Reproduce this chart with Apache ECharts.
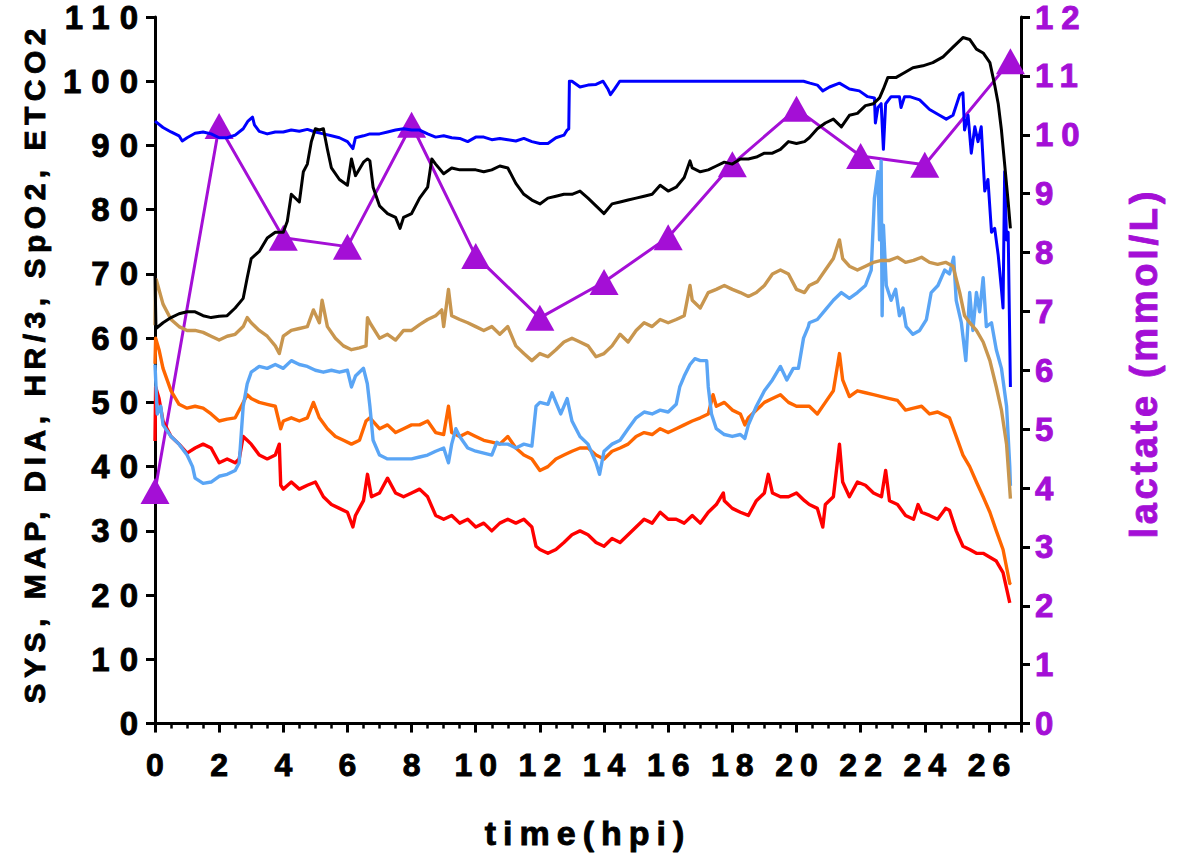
<!DOCTYPE html>
<html>
<head>
<meta charset="utf-8">
<script src="https://cdn.jsdelivr.net/npm/echarts@6/dist/echarts.min.js"></script>
<style>
html,body{margin:0;padding:0;background:#fff;}
#chart{width:1186px;height:855px;}
#chart text[style*="ylabA"]{letter-spacing:10px;}
#chart text[style*="ylabB"]{letter-spacing:8px;}
#chart text[style*="xlabA"]{letter-spacing:7px;}
#chart text[style*="ynameA"]{letter-spacing:5.5px;}
#chart text[style*="ynameB"]{letter-spacing:3.7px;}
#chart text[style*="xnameA"]{letter-spacing:7px;}
</style>
</head>
<body>
<div id="chart"></div>
<script>
// ---- data (time in hours post infection, value) ----
const X_LABELS = [0,2,4,6,8,10,12,14,16,18,20,22,24,26];
const Y_LEFT_TICKS = [0,10,20,30,40,50,60,70,80,90,100,110];
const Y_RIGHT_TICKS = [0,1,2,3,4,5,6,7,8,9,10,11,12];

const LACT_T = [0,2,4,6,8,10,12,14,16,18,20,22,24,26.67];
const LACT_V = [3.95,10.15,8.25,8.1,10.17,7.94,6.89,7.5,8.26,9.5,10.44,9.64,9.49,11.25];

const SPO2 = [[0,93.8],[0.25,92.8],[0.5,92.1],[0.75,91.5],[0.85,90.7],[1,91.2],[1.25,91.9],[1.5,92.1],[1.75,91.8],[2,91.2],[2.25,91.2],[2.5,91.6],[2.75,92.6],[2.9,93.8],[3.04,94.4],[3.1,93.2],[3.25,92.2],[3.5,91.8],[3.75,92.1],[4,92.1],[4.25,92.4],[4.5,92.2],[4.75,92.5],[5,92.1],[5.25,91.8],[5.5,91.5],[5.75,91.2],[6,90.6],[6.17,89.5],[6.25,91.2],[6.5,91.5],[6.7,91.8],[7,91.8],[7.25,92.1],[7.5,92.4],[7.75,92.6],[8,92.4],[8.25,92.4],[8.5,91.8],[8.75,91.3],[9,91.5],[9.25,91.2],[9.5,91.1],[9.75,90.6],[10,91.3],[10.25,91.3],[10.5,90.9],[10.75,91.1],[11,90.9],[11.25,90.7],[11.5,91.1],[11.75,90.6],[12,90.3],[12.25,90.3],[12.5,91.2],[12.75,91.6],[12.85,92.4],[12.9,92.6],[12.92,100],[13,100],[13.25,99.1],[13.5,99.4],[13.75,99.5],[13.97,100],[14.12,98.8],[14.2,97.9],[14.33,98.8],[14.49,100],[15,100],[16,100],[17,100],[18,100],[19,100],[20,100],[20.22,100],[20.42,99.7],[20.65,99.4],[20.82,98.5],[21.03,99.1],[21.34,99.7],[21.65,98.8],[21.96,98.5],[22.22,97.6],[22.43,97.4],[22.46,93.5],[22.54,95.9],[22.64,96.5],[22.71,89.4],[22.78,96.5],[22.95,97.6],[23.21,97.6],[23.26,95.9],[23.37,97.6],[23.53,97.6],[23.84,97.1],[24.15,95.6],[24.46,94.7],[24.67,94.1],[24.88,94.7],[25.09,97.9],[25.19,98.2],[25.24,92.4],[25.35,94.7],[25.45,88.8],[25.56,92.9],[25.66,90.6],[25.76,92.9],[25.87,82.9],[25.97,84.7],[26.08,76.5],[26.18,77.1],[26.29,72.9],[26.39,67.6],[26.44,64.7],[26.49,85.9],[26.55,75.3],[26.6,76.5],[26.67,52.4]];

const HR3 = [[0,70],[0.03,61.5],[0.25,62.4],[0.5,63.2],[0.75,63.8],[1,64.1],[1.25,64.1],[1.5,63.5],[1.75,63.2],[2,63.4],[2.25,63.5],[2.5,64.7],[2.75,66.2],[2.875,69.4],[3,72.4],[3.25,73.5],[3.5,75.6],[3.75,76.5],[4,76.5],[4.125,78.2],[4.25,82.4],[4.5,81.2],[4.625,85.9],[4.75,87.1],[4.875,90.6],[5,92.6],[5.125,92.4],[5.25,92.6],[5.375,89.4],[5.5,86.5],[5.75,84.7],[6,83.8],[6.125,87.9],[6.25,85.3],[6.5,87.4],[6.625,87.9],[6.7,87.6],[6.8,83.5],[7,80.6],[7.25,79.4],[7.5,78.8],[7.64,77.1],[7.75,78.8],[8,79.4],[8.25,81.8],[8.5,83.5],[8.63,87.9],[8.75,87.1],[9,85.6],[9.25,86.5],[9.5,86.2],[9.75,86.2],[10,86.2],[10.25,85.9],[10.5,86.2],[10.75,86.8],[11,86.5],[11.25,84.1],[11.5,82.4],[11.75,81.5],[12,80.9],[12.25,81.8],[12.5,82.1],[12.75,82.4],[13,82.4],[13.25,82.9],[13.5,81.8],[13.75,80.6],[14,79.4],[14.25,80.9],[14.5,81.2],[14.75,81.5],[15,81.8],[15.25,82.1],[15.5,82.4],[15.75,83.8],[16,82.9],[16.25,83.5],[16.5,85.0],[16.68,87.6],[16.75,86.5],[17,85.9],[17.25,86.2],[17.5,86.8],[17.75,87.4],[18,87.1],[18.25,87.9],[18.5,87.9],[18.75,88.2],[19,88.8],[19.25,88.8],[19.5,89.4],[19.75,90.6],[20,90.3],[20.25,90.6],[20.4,91.2],[20.65,92.6],[20.9,93.5],[21.15,94.1],[21.4,92.9],[21.65,94.7],[21.9,95.0],[22.15,96.2],[22.4,96.5],[22.59,97.4],[22.71,98.8],[22.85,100.6],[23.11,100.6],[23.32,101.2],[23.63,102.1],[23.94,102.4],[24.25,102.9],[24.57,103.8],[24.88,105.3],[25.19,106.8],[25.4,106.5],[25.61,105.0],[25.82,104.4],[26.03,102.9],[26.18,99.4],[26.29,96.5],[26.39,92.4],[26.49,87.1],[26.6,81.2],[26.67,77.1]];

const SYS = [[0,62],[0.02,68.8],[0.04,69.1],[0.25,65.3],[0.5,62.9],[0.75,61.8],[1,61.2],[1.25,61.2],[1.5,60.9],[1.75,60.3],[2,59.7],[2.25,60.3],[2.5,60.6],[2.75,61.8],[2.875,63.2],[3,62.4],[3.25,61.2],[3.5,60.3],[3.75,58.8],[3.875,57.6],[4,60.3],[4.25,61.2],[4.5,61.5],[4.75,61.8],[4.94,64.4],[5.125,62.4],[5.21,65.9],[5.375,61.8],[5.625,60.0],[5.875,58.8],[6.125,58.2],[6.375,58.5],[6.58,58.8],[6.625,63.2],[6.7,62.4],[7,60.0],[7.25,60.6],[7.5,59.7],[7.75,61.2],[8,61.2],[8.25,62.1],[8.5,62.9],[8.75,63.5],[8.94,64.4],[9,61.8],[9.15,67.6],[9.25,63.5],[9.5,62.9],[9.75,62.4],[10,61.8],[10.25,61.2],[10.5,61.8],[10.75,60.6],[11,61.8],[11.25,58.8],[11.5,57.6],[11.75,56.5],[12,57.6],[12.25,57.1],[12.5,58.2],[12.75,59.4],[13,60.0],[13.25,59.4],[13.5,58.8],[13.75,57.1],[14,57.6],[14.25,58.8],[14.5,60.6],[14.75,59.4],[15,61.2],[15.25,62.4],[15.5,61.8],[15.75,62.9],[16,62.4],[16.25,62.9],[16.5,63.5],[16.68,68.2],[16.75,65.9],[17,64.7],[17.25,67.1],[17.5,67.6],[17.75,68.2],[18,67.6],[18.25,67.1],[18.5,66.5],[18.75,67.1],[19,68.2],[19.25,70.0],[19.5,70.6],[19.75,70.0],[20,67.6],[20.25,67.1],[20.4,68.2],[20.65,68.8],[20.9,70.6],[21.15,72.4],[21.34,75.3],[21.44,72.4],[21.65,71.2],[21.9,70.6],[22.15,71.2],[22.4,71.8],[22.65,72.1],[22.9,72.1],[23.15,72.6],[23.4,71.8],[23.65,72.1],[23.9,72.6],[24.15,71.8],[24.4,71.5],[24.65,71.8],[24.88,71.2],[25.09,67.1],[25.24,63.5],[25.4,62.4],[25.61,61.2],[25.82,59.4],[26.03,56.5],[26.23,52.4],[26.39,48.8],[26.55,43.5],[26.67,35]];

const ETCO2 = [[0,55.9],[0.07,48.2],[0.18,49.4],[0.25,46.5],[0.5,44.7],[0.75,43.5],[1,41.8],[1.17,40.0],[1.25,38.2],[1.5,37.4],[1.75,37.6],[2,38.5],[2.25,38.8],[2.5,39.4],[2.625,40.6],[2.75,49.4],[2.875,52.9],[3,54.7],[3.25,55.6],[3.5,55.3],[3.75,55.9],[4,55.3],[4.25,56.5],[4.5,55.9],[4.75,55.6],[5,55.0],[5.25,54.7],[5.5,55.0],[5.75,54.7],[6,55.0],[6.125,52.4],[6.25,54.1],[6.5,55.3],[6.62,52.9],[6.7,49.4],[6.8,44.1],[7,41.8],[7.25,41.2],[7.5,41.2],[7.75,41.2],[8,41.2],[8.25,41.5],[8.5,41.8],[8.75,42.4],[9,42.9],[9.15,40.6],[9.25,43.5],[9.38,45.9],[9.5,44.7],[9.75,42.9],[10,42.4],[10.25,42.1],[10.5,41.8],[10.66,43.8],[10.75,43.5],[11,43.5],[11.25,42.9],[11.5,43.5],[11.75,43.2],[11.88,49.4],[12,50.0],[12.25,49.7],[12.38,51.5],[12.5,50.0],[12.65,48.2],[12.85,50.6],[13,47.1],[13.25,44.7],[13.5,43.5],[13.75,40.6],[13.86,38.8],[14,42.4],[14.25,43.5],[14.5,44.1],[14.75,45.9],[15,47.6],[15.25,48.5],[15.5,48.2],[15.75,48.8],[16,48.5],[16.25,49.7],[16.36,52.4],[16.5,54.1],[16.68,55.9],[16.83,56.8],[17,56.5],[17.2,56.5],[17.25,52.4],[17.35,48.2],[17.5,45.9],[17.75,45.0],[18,44.7],[18.25,45.0],[18.39,44.4],[18.5,46.5],[18.75,49.4],[19,51.8],[19.25,53.5],[19.5,55.6],[19.7,53.5],[19.9,55.3],[20.06,55.3],[20.22,60.0],[20.37,61.8],[20.4,62.4],[20.65,62.9],[20.9,64.4],[21.15,65.9],[21.4,67.1],[21.65,66.2],[21.9,67.1],[22.15,68.2],[22.33,70.6],[22.43,81.8],[22.54,85.9],[22.59,75.3],[22.64,87.6],[22.67,63.5],[22.71,77.6],[22.8,68.2],[22.95,65.9],[23.09,67.6],[23.21,63.5],[23.32,64.7],[23.42,61.8],[23.63,60.6],[23.84,61.2],[24.05,62.9],[24.2,67.1],[24.41,68.2],[24.62,70.6],[24.77,70.0],[24.9,72.6],[24.98,65.9],[25.14,62.4],[25.28,56.5],[25.4,67.1],[25.5,61.2],[25.61,67.1],[25.71,64.1],[25.82,69.4],[25.92,61.8],[26.08,62.4],[26.23,58.2],[26.39,55.3],[26.55,49.4],[26.65,40.0],[26.67,37]];

const MAP = [[0,56],[0.02,60.0],[0.125,58.2],[0.25,55.3],[0.5,51.8],[0.75,49.7],[1,49.1],[1.25,49.4],[1.5,49.1],[1.75,48.2],[2,47.1],[2.25,47.4],[2.5,47.6],[2.69,49.4],[2.875,51.2],[3,50.6],[3.25,50.0],[3.5,49.7],[3.75,49.4],[3.92,45.9],[4,47.1],[4.25,47.6],[4.5,47.1],[4.75,47.6],[4.94,50.0],[5.125,47.6],[5.375,45.9],[5.625,44.7],[5.875,44.1],[6.125,43.5],[6.375,44.1],[6.58,47.1],[6.7,47.6],[7,45.9],[7.25,46.5],[7.5,45.3],[7.75,45.9],[8,46.5],[8.25,46.5],[8.5,47.1],[8.75,45.3],[9,45.0],[9.15,49.4],[9.25,45.3],[9.5,44.7],[9.75,45.3],[10,44.7],[10.25,44.1],[10.5,43.8],[10.75,43.5],[11,44.7],[11.25,42.9],[11.5,41.8],[11.75,41.2],[12,39.4],[12.25,40.0],[12.5,41.2],[12.75,41.8],[13,42.4],[13.25,42.9],[13.5,42.9],[13.75,41.8],[14,41.2],[14.25,42.4],[14.5,42.9],[14.75,43.5],[15,44.7],[15.25,45.3],[15.5,45.0],[15.75,45.9],[16,45.3],[16.25,45.9],[16.5,46.5],[16.75,47.1],[17,47.6],[17.25,48.2],[17.4,51.2],[17.5,49.4],[17.75,50.0],[18,48.8],[18.25,48.2],[18.39,46.5],[18.5,47.6],[18.75,48.8],[19,50.0],[19.25,50.6],[19.5,51.2],[19.75,50.0],[20,49.4],[20.25,49.4],[20.4,49.4],[20.65,48.2],[20.9,50.0],[21.15,51.8],[21.34,57.6],[21.44,53.5],[21.65,50.9],[21.9,51.8],[22.15,51.5],[22.4,51.2],[22.65,50.9],[22.9,50.6],[23.15,50.3],[23.4,48.8],[23.65,49.1],[23.9,49.4],[24.15,48.2],[24.4,48.5],[24.65,47.9],[24.77,47.6],[24.98,44.7],[25.19,41.8],[25.4,40.0],[25.61,37.6],[25.82,35.3],[26.03,32.9],[26.23,30.0],[26.44,27.1],[26.65,21.8],[26.67,22]];

const DIA = [[0,44],[0.02,52.4],[0.125,50.6],[0.25,47.1],[0.5,44.7],[0.75,43.5],[1,42.1],[1.25,42.9],[1.5,43.5],[1.75,42.9],[2,40.6],[2.25,41.2],[2.5,40.6],[2.625,41.2],[2.75,44.7],[2.875,44.1],[3,43.5],[3.25,41.8],[3.5,41.2],[3.75,41.8],[3.875,43.5],[3.92,37.1],[4,36.5],[4.25,37.6],[4.5,36.5],[4.75,37.1],[5,37.6],[5.25,35.3],[5.5,34.1],[5.75,33.5],[6,32.9],[6.17,30.6],[6.25,32.4],[6.5,34.7],[6.625,38.8],[6.75,35.3],[7,35.9],[7.25,38.2],[7.5,35.9],[7.75,35.3],[8,35.9],[8.25,36.5],[8.5,35.3],[8.75,32.4],[9,31.8],[9.25,32.4],[9.5,31.2],[9.75,31.8],[10,30.6],[10.25,31.2],[10.5,30.0],[10.75,31.2],[11,31.8],[11.25,31.2],[11.5,31.8],[11.75,30.6],[11.88,27.6],[12,27.1],[12.25,26.5],[12.5,27.1],[12.75,28.2],[13,29.4],[13.25,30.0],[13.5,29.4],[13.75,28.2],[14,27.6],[14.25,28.8],[14.5,28.2],[14.75,29.4],[15,30.6],[15.25,31.8],[15.5,31.2],[15.75,32.9],[16,31.8],[16.25,31.8],[16.5,31.2],[16.75,32.4],[17,31.2],[17.25,32.9],[17.5,34.1],[17.72,35.9],[17.75,34.7],[18,33.5],[18.25,32.9],[18.5,32.4],[18.75,34.7],[19,35.9],[19.12,38.8],[19.25,35.9],[19.5,35.3],[19.75,35.3],[20,35.9],[20.25,34.7],[20.4,34.1],[20.65,33.5],[20.82,30.6],[20.9,34.1],[21.15,35.3],[21.34,43.5],[21.44,37.6],[21.65,35.3],[21.9,37.6],[22.15,37.1],[22.4,35.9],[22.65,35.3],[22.78,39.4],[22.9,34.7],[23.15,34.1],[23.4,32.4],[23.65,31.8],[23.79,34.1],[23.9,32.9],[24.15,32.4],[24.4,31.8],[24.65,33.5],[24.77,33.2],[24.98,30.0],[25.19,27.6],[25.4,27.1],[25.61,26.5],[25.82,26.5],[26.03,25.9],[26.23,25.3],[26.44,23.5],[26.65,18.8],[26.67,18.8]];

// ---- chart ----
const PURPLE = '#a40fd6';
const chart = echarts.init(document.getElementById('chart'), null, {renderer: 'svg'});

const lineSeries = (name, data, color, width, z) => ({
  name, type: 'line', data, xAxisIndex: 0, yAxisIndex: 0,
  showSymbol: false, symbol: 'none', z,
  lineStyle: {color, width, join: 'round'}
});

const boldText = (color) => ({color, fontWeight: 'bold', textBorderColor: color, textBorderWidth: 0.9});

chart.setOption({
  animation: false,
  grid: {left: 155, right: 165, top: 17, bottom: 130, containLabel: false},
  xAxis: [{
    type: 'value', min: 0, max: 27, interval: 2,
    axisLine: {show: true, onZero: false, lineStyle: {color: '#000', width: 3}},
    axisTick: {show: true, length: 9, lineStyle: {color: '#000', width: 3}},
    splitLine: {show: false},
    axisLabel: Object.assign(boldText('#000'), {
      fontSize: 32,
      fontFamily: 'xlabA, "Liberation Sans", Arial, sans-serif',
      margin: 25, padding: [0, 0, 0, 7],
      formatter: v => X_LABELS.indexOf(v) >= 0 ? String(v) : ''
    }),
    name: 'time(hpi)', nameLocation: 'middle', nameGap: 92,
    nameTextStyle: Object.assign(boldText('#000'), {fontSize: 34,
      fontFamily: 'xnameA, "Liberation Sans", Arial, sans-serif'})
  }, {
    type: 'value', min: 0, max: 27, interval: 0.5, position: 'bottom',
    axisLine: {show: false},
    axisTick: {show: true, length: 5, lineStyle: {color: '#000', width: 2.5}},
    axisLabel: {show: false},
    splitLine: {show: false}
  }],
  yAxis: [{
    type: 'value', min: 0, max: 110, interval: 10, position: 'left',
    axisLine: {show: true, onZero: false, lineStyle: {color: '#000', width: 3}},
    axisTick: {show: true, length: 9, lineStyle: {color: '#000', width: 3}},
    splitLine: {show: false},
    axisLabel: Object.assign(boldText('#000'), {
      fontSize: 33,
      fontFamily: 'ylabA, "Liberation Sans", Arial, sans-serif', margin: 7,
      formatter: v => Y_LEFT_TICKS.indexOf(v) >= 0 ? String(v) : ''
    }),
    name: 'SYS, MAP, DIA, HR/3, SpO2, ETCO2', nameLocation: 'middle', nameGap: 106,
    nameTextStyle: Object.assign(boldText('#000'), {fontSize: 30, padding: [0, 0, 0, 14],
      fontFamily: 'ynameA, "Liberation Sans", Arial, sans-serif'})
  }, {
    type: 'value', min: 0, max: 12, interval: 1, position: 'right',
    axisLine: {show: true, onZero: false, lineStyle: {color: '#000', width: 3}},
    axisTick: {show: true, length: 9, lineStyle: {color: '#000', width: 3}},
    splitLine: {show: false},
    axisLabel: Object.assign(boldText(PURPLE), {
      fontSize: 33,
      fontFamily: 'ylabB, "Liberation Sans", Arial, sans-serif', margin: 14,
      formatter: v => Y_RIGHT_TICKS.indexOf(v) >= 0 ? String(v) : ''
    }),
    name: 'lactate (mmol/L)', nameLocation: 'middle', nameGap: 104,
    nameTextStyle: Object.assign(boldText(PURPLE), {fontSize: 38, padding: [0, 0, 0, 14],
      fontFamily: 'ynameB, "Liberation Sans", Arial, sans-serif'})
  }],
  series: [
    {
      name: 'lactate', type: 'line', xAxisIndex: 0, yAxisIndex: 1, z: 1,
      data: LACT_T.map((t, i) => [t, LACT_V[i]]),
      symbol: 'triangle', symbolSize: [29, 26], showSymbol: true,
      lineStyle: {color: PURPLE, width: 3},
      itemStyle: {color: PURPLE, borderWidth: 0}
    },
    lineSeries('DIA', DIA, '#ff0000', 3.4, 2),
    lineSeries('MAP', MAP, '#ff6600', 3.4, 3),
    lineSeries('ETCO2', ETCO2, '#5aa5f5', 3.4, 4),
    lineSeries('SYS', SYS, '#c8964f', 3.4, 5),
    lineSeries('SpO2', SPO2, '#0000ff', 3, 6),
    lineSeries('HR/3', HR3, '#000000', 3, 7)
  ]
});
</script>
</body>
</html>
